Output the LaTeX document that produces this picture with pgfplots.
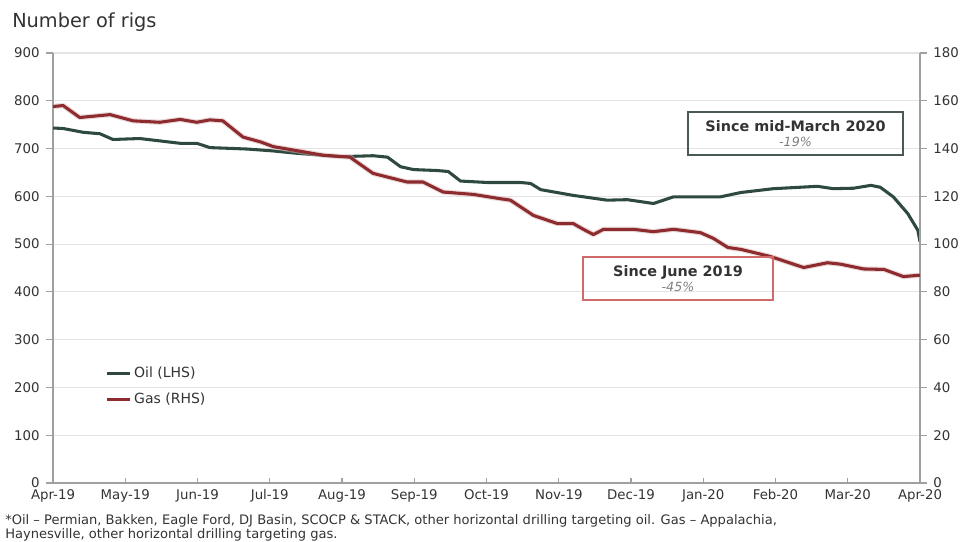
\documentclass[border=0pt]{standalone}
\usepackage{pgfplots}
\pgfplotsset{compat=1.18}
\usepackage{fontspec}
\setmainfont{DejaVu Sans}
\definecolor{oil}{HTML}{2E4A3F}
\definecolor{gas}{HTML}{8E2B2E}
\definecolor{gridc}{HTML}{E4E4E4}
\definecolor{axc}{HTML}{A0A0A0}
\definecolor{txt}{HTML}{333333}
\definecolor{box1}{HTML}{4A5A52}
\definecolor{box2}{HTML}{D06A6A}
\begin{document}
\begin{tikzpicture}
\useasboundingbox (0,0) rectangle (727.5pt,406.5pt);
\begin{axis}[
  at={(39.75pt,44.25pt)}, anchor=south west,
  scale only axis, width=650.25pt, height=322.5pt,
  xmin=0, xmax=12, ymin=0, ymax=900,
  axis x line*=bottom, axis y line*=left,
  axis line style={axc, line width=0.8pt},
  xtick={0,...,12},
  xticklabels={Apr-19,May-19,Jun-19,Jul-19,Aug-19,Sep-19,Oct-19,Nov-19,Dec-19,Jan-20,Feb-20,Mar-20,Apr-20},
  ytick={0,100,...,900},
  tick align=center, major tick length=5pt,
  tick style={axc, line width=0.8pt},
  x tick style={yshift=1.5pt},
  y tick style={xshift=-2.5pt},
  ymajorgrids, grid style={gridc, line width=0.8pt},
  ticklabel style={font=\fontsize{10}{12}\selectfont, text=txt},
  yticklabel style={xshift=-4pt},
  xticklabel style={yshift=1pt},
  /pgf/number format/assume math mode=true,
  legend style={at={(0.056,0.283)}, anchor=north west, draw=none, fill=none,
    font=\fontsize{10.5}{12}\selectfont, text=txt, row sep=6pt},
  legend cell align=left,
  legend image post style={line width=2.2pt},
]
\addplot[oil, line width=2.3pt, line join=round] coordinates {
(0,743)(0.14,742)(0.42,734)(0.65,731)(0.83,719)(1.2,721)(1.48,716)(1.76,711)(1.99,711)(2.17,702)(2.69,699)(3.05,695)(3.38,690)(3.98,683)(4.43,685)(4.63,682)(4.81,662)(4.99,656)(5.32,654)(5.47,652)(5.64,632)(6.01,629)(6.47,629)(6.61,627)(6.75,614)(7.2,602)(7.67,592)(7.95,593)(8.31,585)(8.59,599)(9.24,599)(9.52,608)(9.97,616)(10.58,621)(10.8,616)(11.08,617)(11.32,623)(11.45,619)(11.63,599)(11.83,564)(11.97,529)(12,505)
};
\addlegendentry{Oil (LHS)}
\addlegendimage{gas, line width=2.2pt}
\addlegendentry{Gas (RHS)}
\end{axis}
\begin{axis}[
  at={(39.75pt,44.25pt)}, anchor=south west,
  scale only axis, width=650.25pt, height=322.5pt,
  xmin=0, xmax=12, ymin=0, ymax=180,
  axis x line=none, axis y line*=right,
  axis line style={axc, line width=0.8pt},
  ytick={0,20,...,180},
  tick align=center, major tick length=5pt,
  tick style={axc, line width=0.8pt},
  y tick style={xshift=2.5pt},
  ticklabel style={font=\fontsize{10}{12}\selectfont, text=txt},
  yticklabel style={xshift=4pt},
  /pgf/number format/assume math mode=true,
]
\addplot[gas!35, line width=4pt, line join=round, opacity=0.5] coordinates {
(0,157.6)(0.14,158)(0.37,153)(0.79,154.2)(1.11,151.6)(1.48,151)(1.76,152.2)(1.99,151)(2.17,152)(2.35,151.6)(2.63,144.8)(2.87,142.8)(3.05,140.8)(3.32,139.4)(3.74,137.2)(4.11,136.4)(4.43,129.6)(4.9,126)(5.12,126)(5.4,121.8)(5.82,120.8)(6.19,119)(6.33,118.4)(6.65,112)(6.98,108.6)(7.2,108.6)(7.34,106.2)(7.48,104)(7.62,106.2)(8.03,106.2)(8.31,105.2)(8.59,106.2)(8.96,104.8)(9.14,102.4)(9.34,98.6)(9.52,97.8)(9.93,94.8)(10.39,90.2)(10.72,92.2)(10.9,91.6)(11.22,89.6)(11.5,89.4)(11.77,86.4)(12,87)
};
\addplot[gas, line width=2.3pt, line join=round] coordinates {
(0,157.6)(0.14,158)(0.37,153)(0.79,154.2)(1.11,151.6)(1.48,151)(1.76,152.2)(1.99,151)(2.17,152)(2.35,151.6)(2.63,144.8)(2.87,142.8)(3.05,140.8)(3.32,139.4)(3.74,137.2)(4.11,136.4)(4.43,129.6)(4.9,126)(5.12,126)(5.4,121.8)(5.82,120.8)(6.19,119)(6.33,118.4)(6.65,112)(6.98,108.6)(7.2,108.6)(7.34,106.2)(7.48,104)(7.62,106.2)(8.03,106.2)(8.31,105.2)(8.59,106.2)(8.96,104.8)(9.14,102.4)(9.34,98.6)(9.52,97.8)(9.93,94.8)(10.39,90.2)(10.72,92.2)(10.9,91.6)(11.22,89.6)(11.5,89.4)(11.77,86.4)(12,87)
};
\end{axis}
\begin{scope}[x=0.75pt,y=0.75pt]
% title
\node[anchor=base west, inner sep=0, text=txt, font=\fontsize{14.5}{16}\selectfont] at (12,514) {Number of rigs};
% annotation boxes
\draw[box1, line width=1pt] (688,387) rectangle (903,430);
\node[align=center, text=txt, inner sep=0] at (795.5,408.5)
  {{\fontsize{10.8}{13}\selectfont\bfseries Since mid-March 2020}\\[-1pt]{\fontsize{9.5}{11}\selectfont\itshape\color{gray} -19\%}};
\draw[box2, line width=1pt] (583,242) rectangle (773,285);
\node[align=center, text=txt, inner sep=0] at (678,263.5)
  {{\fontsize{10.8}{13}\selectfont\bfseries Since June 2019}\\[-1pt]{\fontsize{9.5}{11}\selectfont\itshape\color{gray} -45\%}};
% footnote
\node[anchor=base west, inner sep=0, text=txt, font=\fontsize{9.8}{10}\selectfont] at (5,17)
  {*Oil – Permian, Bakken, Eagle Ford, DJ Basin, SCOCP \& STACK, other horizontal drilling targeting oil. Gas – Appalachia,};
\node[anchor=base west, inner sep=0, text=txt, font=\fontsize{9.8}{10}\selectfont] at (5,3)
  {Haynesville, other horizontal drilling targeting gas.};
\end{scope}
\end{tikzpicture}
\end{document}
